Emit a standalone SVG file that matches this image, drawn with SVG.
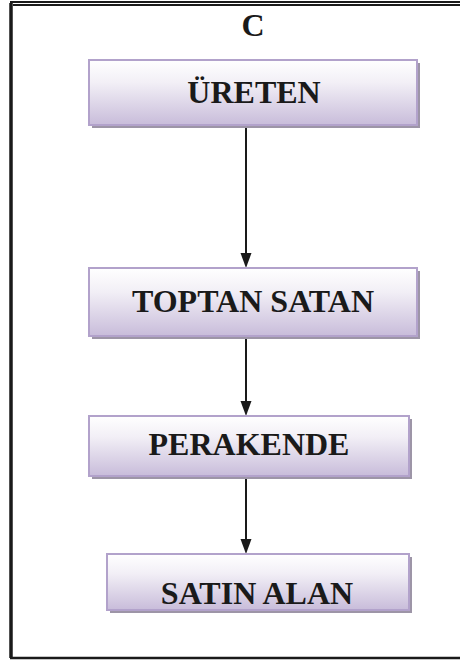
<svg xmlns="http://www.w3.org/2000/svg" width="460" height="660" viewBox="0 0 460 660">
  <style>
    .box { fill: url(#boxFill); stroke: #b2a2cb; stroke-width: 2; }
    .shadow { fill: #9d95a7; }
    .label { font-family: "Liberation Serif", "Times New Roman", serif; font-weight: bold; font-size: 32px; fill: #1a1a1a; text-anchor: middle; }
    .frame { stroke: #1a1a1a; fill: none; }
    .conn { stroke: #1a1a1a; stroke-width: 2; fill: none; }
    .head { fill: #1a1a1a; }
  </style>
  <defs>
    <linearGradient id="boxFill" x1="0" y1="0" x2="0" y2="1">
      <stop offset="0" stop-color="#ffffff"/>
      <stop offset="0.35" stop-color="#f2eff6"/>
      <stop offset="1" stop-color="#c8bcda"/>
    </linearGradient>
  </defs>

  <!-- outer frame: thick left rule, double top rule, bottom rule -->
  <g id="frame">
    <line class="frame" x1="11" y1="3" x2="11" y2="658" stroke-width="3.5"/>
    <line class="frame" x1="10" y1="2" x2="460" y2="2" stroke-width="1.8"/>
    <line class="frame" x1="13" y1="5" x2="460" y2="5" stroke-width="1.8"/>
    <line class="frame" x1="10" y1="658" x2="460" y2="658" stroke-width="2.5"/>
  </g>

  <text class="label" x="253" y="36">C</text>

  <!-- connectors -->
  <g id="connectors">
    <line class="conn" x1="246" y1="127" x2="246" y2="254"/>
    <path class="head" d="M240.5,253 L251.5,253 L246,268 Z"/>
    <line class="conn" x1="246" y1="338" x2="246" y2="402"/>
    <path class="head" d="M240.5,401 L251.5,401 L246,416 Z"/>
    <line class="conn" x1="246" y1="478" x2="246" y2="540"/>
    <path class="head" d="M240.5,539 L251.5,539 L246,554 Z"/>
  </g>

  <g id="ureten">
    <rect class="shadow" x="92" y="63" width="328" height="65"/>
    <rect class="box" x="89" y="60" width="328" height="65"/>
    <text class="label" x="254" y="103">ÜRETEN</text>
  </g>

  <g id="toptan-satan">
    <rect class="shadow" x="92" y="271" width="328" height="68"/>
    <rect class="box" x="89" y="268" width="328" height="68"/>
    <text class="label" x="253" y="312">TOPTAN SATAN</text>
  </g>

  <g id="perakende">
    <rect class="shadow" x="92" y="419" width="320" height="60"/>
    <rect class="box" x="89" y="416" width="320" height="60"/>
    <text class="label" x="249" y="455">PERAKENDE</text>
  </g>

  <g id="satin-alan">
    <rect class="shadow" x="110" y="557" width="302" height="56"/>
    <rect class="box" x="107" y="554" width="302" height="56"/>
    <text class="label" x="257" y="604">SATIN ALAN</text>
  </g>
</svg>
